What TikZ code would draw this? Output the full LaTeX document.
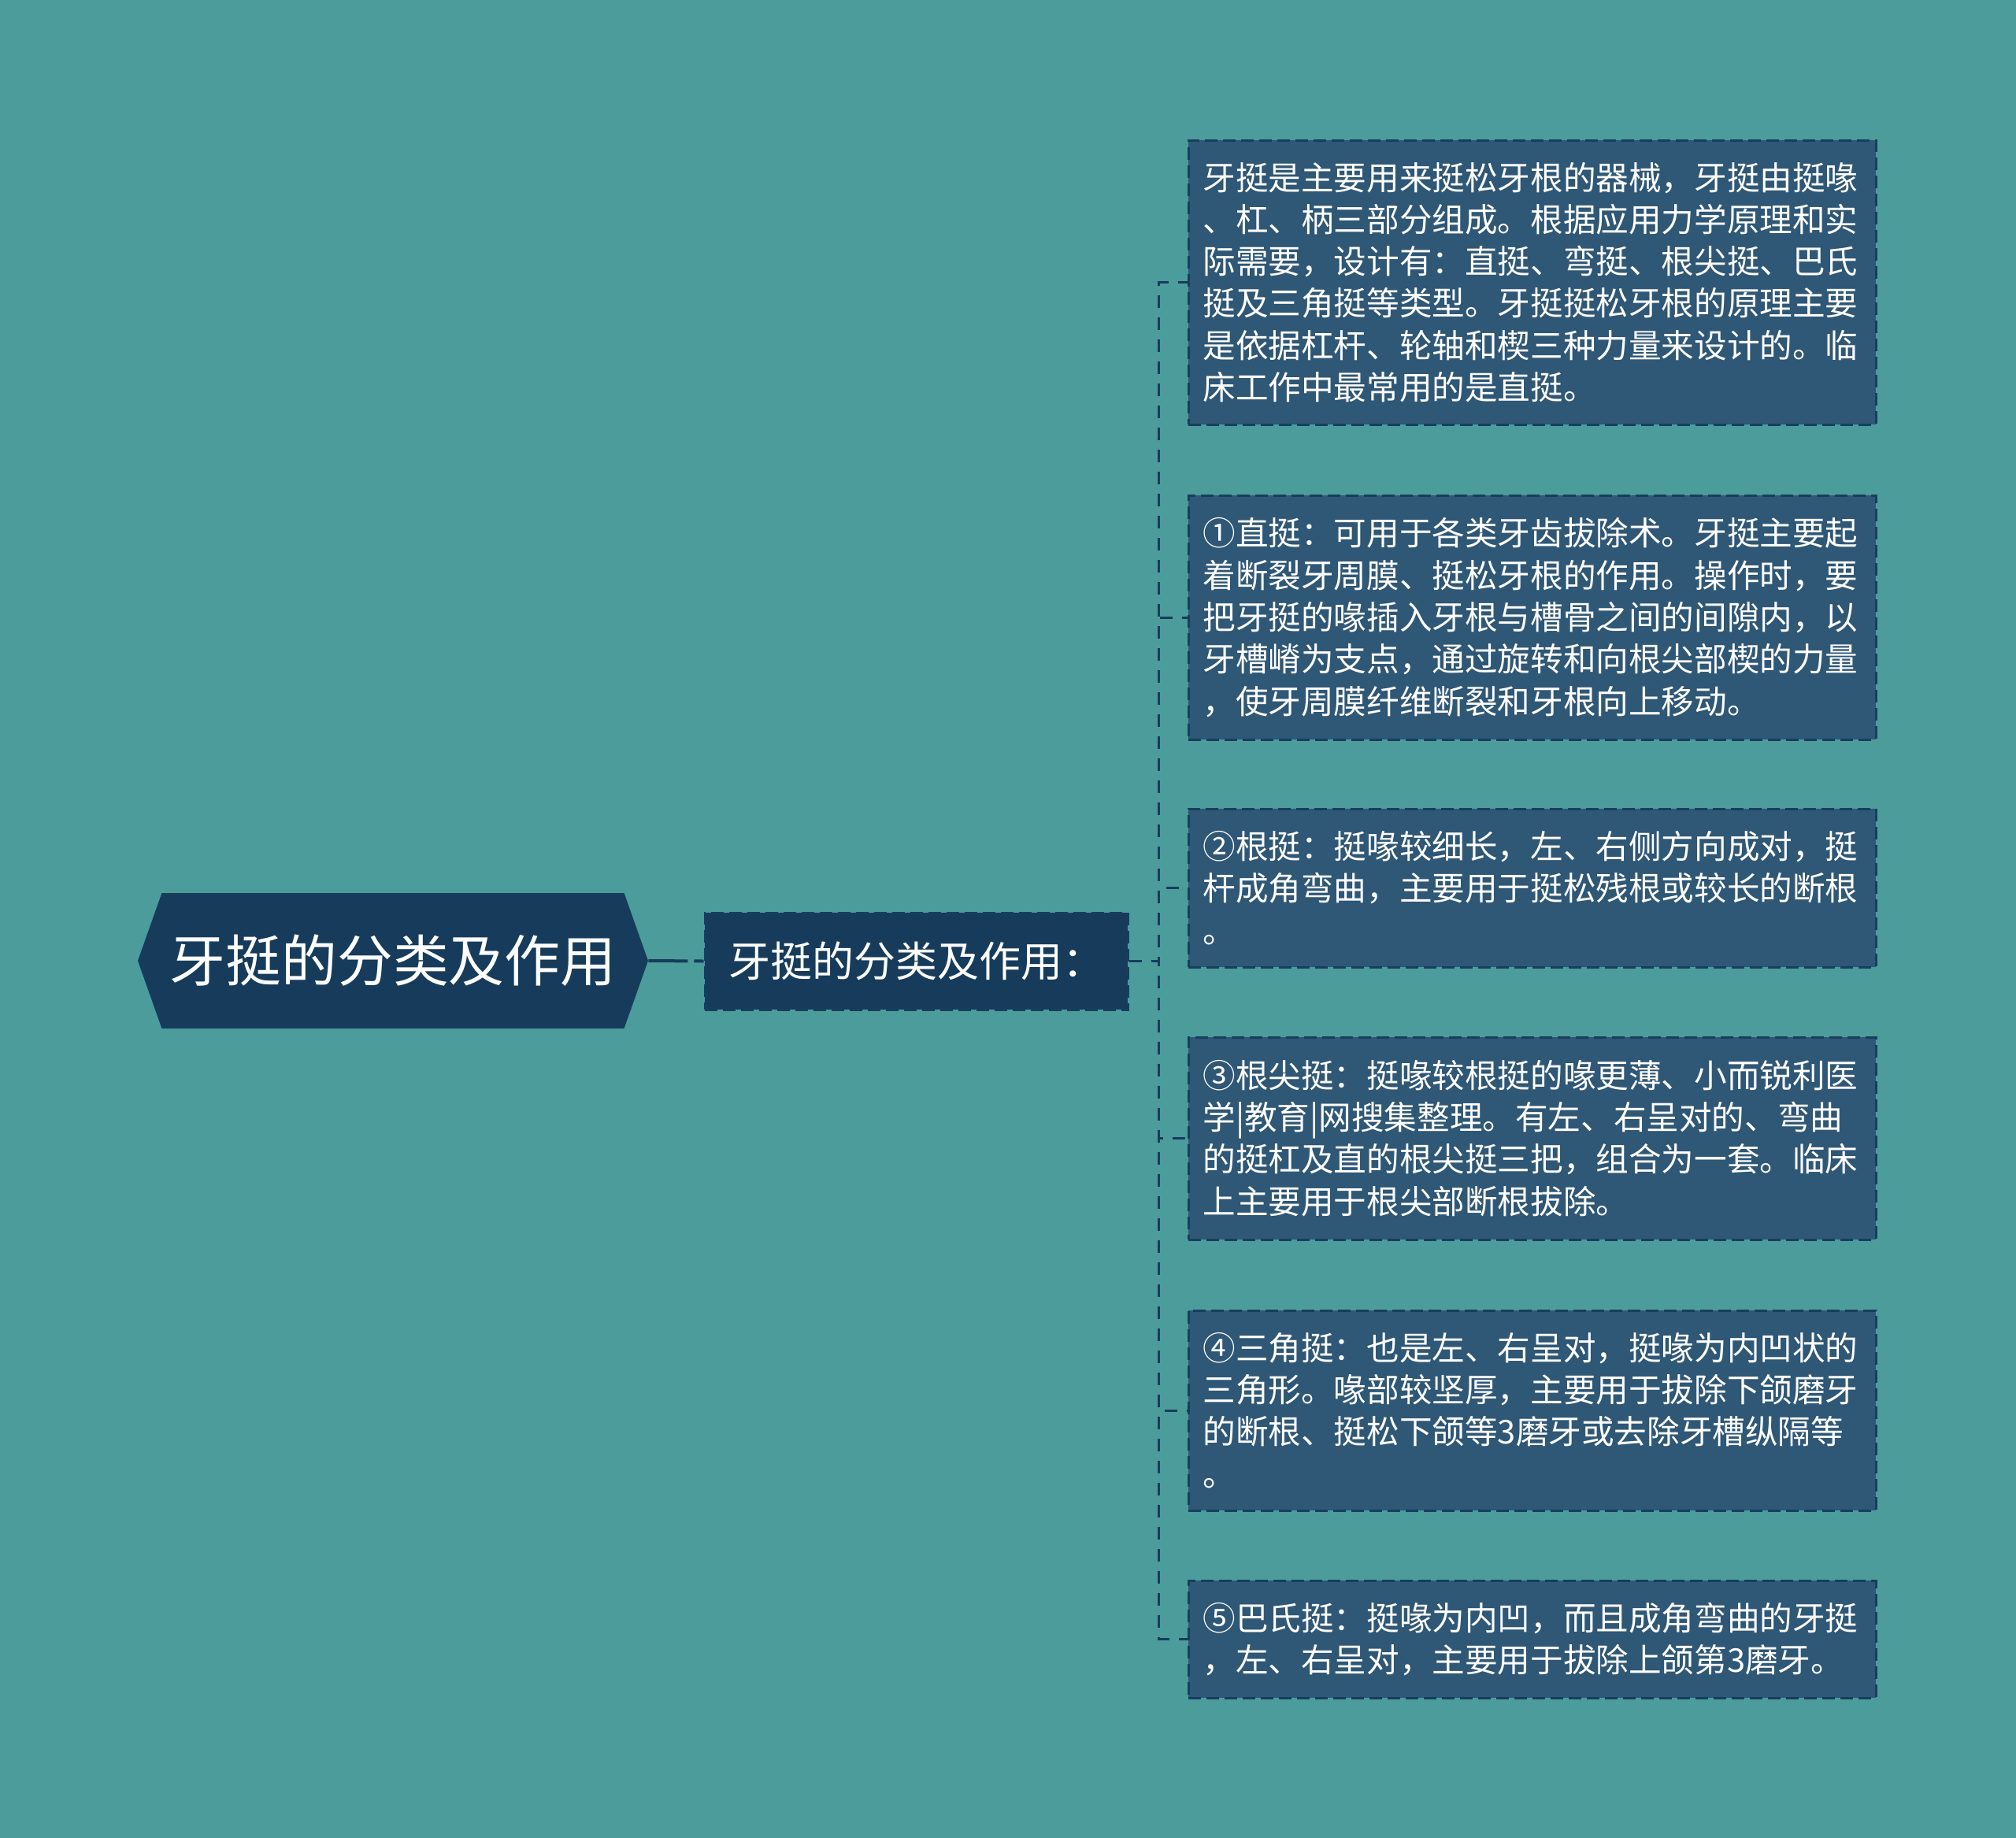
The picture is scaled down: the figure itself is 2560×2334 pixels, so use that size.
\documentclass[tikz,border=0pt]{standalone}
\usepackage{fontspec}
\setmainfont{Noto Sans CJK SC}
\usetikzlibrary{shapes.symbols}
\definecolor{bgteal}{RGB}{76,156,156}
\definecolor{navy}{RGB}{23,60,91}
\definecolor{slate}{RGB}{47,87,118}
\definecolor{edge}{RGB}{24,62,94}

\begin{document}
\begin{tikzpicture}[x=0.5pt,y=0.5pt,yscale=-1,
    rootnode/.style={shape=signal,signal to=east and west,signal pointer angle=141,
      fill=navy,text=white,inner sep=0pt,minimum width=324pt,minimum height=86pt,
      font=\fontsize{35.4}{42}\selectfont},
    topic/.style={fill=navy,draw=edge,line width=1.5pt,dash pattern=on 8pt off 3.5pt,
      text=white,inner sep=0pt,minimum width=268.5pt,minimum height=61.5pt,
      font=\fontsize{26.5}{32}\selectfont},
    leaf/.style={fill=slate,draw=edge,line width=1.5pt,dash pattern=on 8pt off 3.5pt,
      text=white,text width=418pt,align=left,inner xsep=9.25pt,inner ysep=0pt,
      font=\fontsize{20.8}{26.65}\selectfont},
    link/.style={draw=navy,line width=1.5pt,dash pattern=on 8pt off 6pt}]
  \fill[bgteal] (0,0) rectangle (2560,2334);
  \useasboundingbox (0,0) rectangle (2560,2334);

  \node[rootnode] (root) at (499,1220) {牙挺的分类及作用};
  \node[topic] (kinds) at (1163.5,1220.5) {牙挺的分类及作用：};

  \node[leaf,minimum height=180.5pt] (intro) at (1945.5,358.5) {牙挺是主要用来挺松牙根的器械，牙挺由挺喙\\、杠、柄三部分组成。根据应用力学原理和实\\际需要，设计有：直挺、弯挺、根尖挺、巴氏\\挺及三角挺等类型。牙挺挺松牙根的原理主要\\是依据杠杆、轮轴和楔三种力量来设计的。临\\床工作中最常用的是直挺。};
  \node[leaf,minimum height=155pt] (straight) at (1945.5,784) {①直挺：可用于各类牙齿拔除术。牙挺主要起\\着断裂牙周膜、挺松牙根的作用。操作时，要\\把牙挺的喙插入牙根与槽骨之间的间隙内，以\\牙槽嵴为支点，通过旋转和向根尖部楔的力量\\，使牙周膜纤维断裂和牙根向上移动。};
  \node[leaf,minimum height=100.5pt] (rootel) at (1945.5,1127.5) {②根挺：挺喙较细长，左、右侧方向成对，挺\\杆成角弯曲，主要用于挺松残根或较长的断根\\。};
  \node[leaf,minimum height=128.5pt] (apical) at (1945.5,1445.5) {③根尖挺：挺喙较根挺的喙更薄、小而锐利医\\学|教育|网搜集整理。有左、右呈对的、弯曲\\的挺杠及直的根尖挺三把，组合为一套。临床\\上主要用于根尖部断根拔除。};
  \node[leaf,minimum height=127pt] (triangle) at (1945.5,1791) {④三角挺：也是左、右呈对，挺喙为内凹状的\\三角形。喙部较坚厚，主要用于拔除下颌磨牙\\的断根、挺松下颌等3磨牙或去除牙槽纵隔等\\。};
  \node[leaf,minimum height=74.5pt] (barry) at (1945.5,2081.5) {⑤巴氏挺：挺喙为内凹，而且成角弯曲的牙挺\\，左、右呈对，主要用于拔除上颌第3磨牙。};

  \draw[link,line width=2pt,dash pattern=on 25pt off 4pt] (root.east) -- (kinds.west);
  \foreach \b in {intro,straight,rootel,apical,triangle,barry}
    \draw[link] (kinds.east) -- ++(38,0) |- (\b.west);
\end{tikzpicture}
\end{document}
